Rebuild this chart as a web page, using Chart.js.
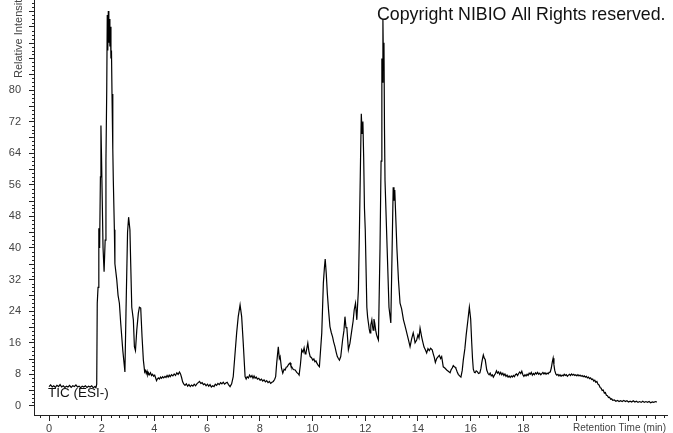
<!DOCTYPE html>
<html>
<head>
<meta charset="utf-8">
<script src="https://cdn.jsdelivr.net/npm/chart.js@4/dist/chart.umd.min.js"></script>
<style>
  html, body { margin: 0; padding: 0; background: #fff; }
  #wrap { width: 673px; height: 433px; }
</style>
</head>
<body>
<div id="wrap"><canvas id="tic" width="673" height="433"></canvas></div>
<script>
// TIC trace as [retention time (min), relative intensity (%)]
const startBaseline = [
  [0.00, 4.9], [0.06, 5.3], [0.12, 4.8], [0.18, 5.1], [0.24, 4.7], [0.30, 5.2], [0.36, 4.9], [0.42, 5.4],
  [0.48, 4.8], [0.54, 5.1], [0.60, 4.7], [0.66, 5.0], [0.72, 4.8], [0.78, 5.2], [0.84, 4.7], [0.90, 5.1],
  [0.96, 4.9], [1.02, 5.3], [1.08, 4.8], [1.14, 5.0], [1.20, 4.6], [1.26, 5.0], [1.32, 4.8], [1.38, 5.1],
  [1.44, 4.7], [1.50, 5.0], [1.56, 4.8], [1.62, 5.1], [1.68, 4.6], [1.74, 4.9], [1.78, 4.6], [1.81, 5.5],
];

const earlyPeaks = [
  [1.83, 26], [1.86, 30], [1.89, 45], [1.92, 40], [1.95, 58], [1.97, 71], [1.99, 64], [2.02, 52],
  [2.05, 40], [2.09, 34], [2.13, 42], [2.16, 62], [2.19, 80], [2.21, 99], [2.23, 90], [2.25, 100],
  [2.27, 92], [2.29, 98], [2.31, 91], [2.33, 96], [2.35, 88], [2.37, 90], [2.39, 79], [2.42, 65],
  [2.44, 57], [2.48, 44.6], [2.50, 36], [2.57, 32], [2.62, 28], [2.67, 26], [2.72, 21], [2.80, 14],
  [2.86, 10], [2.88, 8.6], [2.92, 23.5], [2.98, 44], [3.02, 47.8], [3.07, 44.6], [3.10, 36], [3.14, 25],
  [3.20, 21.8], [3.24, 15], [3.28, 14], [3.33, 19.2], [3.39, 23.5], [3.43, 25], [3.48, 24.8], [3.50, 21.8],
  [3.53, 17.5], [3.58, 11.6],
];

const midBaseline = [
  [3.63, 8.6], [3.66, 9.0], [3.69, 8.2], [3.72, 8.8], [3.75, 7.8], [3.78, 8.3], [3.81, 7.9], [3.85, 8.4],
  [3.89, 7.7], [3.93, 8.0], [3.97, 7.5], [4.01, 7.8], [4.05, 7.0], [4.08, 6.4], [4.11, 6.8], [4.15, 7.1],
  [4.19, 6.8], [4.23, 7.3], [4.27, 7.0], [4.31, 7.4], [4.35, 7.1], [4.40, 7.5], [4.44, 7.2], [4.48, 7.7],
  [4.52, 7.3], [4.56, 7.8], [4.60, 7.4], [4.65, 7.9], [4.70, 7.6], [4.75, 8.1], [4.80, 7.7], [4.85, 8.4],
  [4.90, 8.0], [4.95, 8.6], [4.99, 8.1], [5.03, 7.2], [5.07, 6.1], [5.11, 5.6], [5.16, 5.2], [5.21, 5.6],
  [5.26, 5.0], [5.31, 5.4], [5.36, 4.9], [5.41, 5.3], [5.46, 5.0], [5.51, 5.5], [5.56, 5.1], [5.61, 5.6],
  [5.66, 5.9], [5.71, 6.2], [5.76, 5.7], [5.81, 5.9], [5.86, 5.4], [5.91, 5.6], [5.96, 5.1], [6.01, 5.5],
  [6.06, 5.0], [6.11, 5.4], [6.16, 4.8], [6.21, 5.1], [6.26, 4.9], [6.31, 5.5], [6.36, 5.2], [6.41, 5.7],
  [6.46, 5.4], [6.51, 5.9], [6.56, 5.6], [6.61, 6.0], [6.66, 5.5], [6.71, 5.8], [6.76, 6.0], [6.81, 5.4],
  [6.87, 4.9], [6.93, 5.6], [6.99, 7.4],
];

const peaks7to10 = [
  [7.12, 18.5], [7.18, 22.6], [7.25, 25.6], [7.31, 22.6], [7.37, 15.9], [7.44, 7.4], [7.48, 6.8], [7.52, 7.4],
  [7.57, 7.1], [7.61, 7.8], [7.66, 7.3], [7.70, 7.7], [7.74, 7.0], [7.78, 7.6], [7.82, 7.0], [7.86, 7.3],
  [7.91, 6.8], [7.96, 7.0], [8.01, 6.5], [8.06, 6.8], [8.11, 6.3], [8.16, 6.6], [8.21, 6.1], [8.26, 6.4],
  [8.31, 5.9], [8.36, 6.2], [8.41, 5.7], [8.46, 6.0], [8.51, 6.2], [8.56, 6.7], [8.60, 7.4], [8.64, 10.9],
  [8.70, 15.0], [8.74, 12.0], [8.77, 12.5], [8.82, 9.6], [8.87, 8.3], [8.92, 9.3], [8.96, 9.1], [9.00, 9.8],
  [9.04, 9.9], [9.09, 10.5], [9.15, 10.9], [9.18, 10.1], [9.21, 9.9], [9.27, 9.2], [9.34, 9.1], [9.40, 8.5],
  [9.45, 8.2], [9.49, 7.8], [9.54, 10.5], [9.59, 14.2], [9.64, 13.6], [9.68, 14.7], [9.72, 13.2], [9.75, 13.4],
  [9.82, 15.9], [9.86, 13.9], [9.91, 12.5], [9.96, 12.2], [10.01, 11.6], [10.05, 11.9], [10.09, 11.2],
  [10.13, 11.4], [10.16, 10.9], [10.21, 10.3], [10.26, 9.9],
];

const mainCluster = [
  [10.35, 18.5], [10.41, 31.1], [10.45, 35.0], [10.48, 37.2], [10.52, 33.5], [10.56, 28.6], [10.61, 24.0],
  [10.66, 20.1], [10.71, 18.6], [10.76, 17.5], [10.80, 16.2], [10.85, 15.0], [10.90, 13.5], [10.94, 12.5],
  [10.98, 12.0], [11.02, 11.6], [11.07, 12.5], [11.14, 16.7], [11.19, 19.0], [11.23, 22.6], [11.27, 19.8],
  [11.30, 20.0], [11.36, 14.2], [11.42, 15.9], [11.49, 19.2], [11.54, 21.5], [11.58, 24.3], [11.63, 26.0],
  [11.68, 21.8], [11.74, 29.4], [11.78, 45], [11.82, 62], [11.85, 74], [11.88, 69], [11.91, 72], [11.94, 63],
  [11.97, 50], [12.00, 44.6], [12.06, 25], [12.09, 22.5], [12.12, 21], [12.15, 19.5], [12.18, 18.5],
  [12.21, 20.5], [12.25, 21.8], [12.28, 20.0], [12.30, 19.2], [12.33, 22.0], [12.36, 21], [12.40, 19.0],
  [12.43, 18.0], [12.47, 17.2], [12.50, 16.7], [12.56, 40], [12.60, 62], [12.63, 88], [12.65, 82],
  [12.67, 98], [12.69, 86], [12.71, 92], [12.73, 70], [12.75, 57], [12.83, 40], [12.90, 25], [12.97, 21],
  [13.02, 40], [13.06, 55.4], [13.09, 52], [13.12, 54.7], [13.20, 40], [13.26, 31.9],
];

const tailPeaks = [
  [13.32, 26], [13.38, 24.6], [13.45, 21.8], [13.50, 20.5], [13.55, 19.2], [13.60, 17.8], [13.64, 16.7],
  [13.70, 15.0], [13.76, 17.0], [13.82, 18.5], [13.86, 17.2], [13.89, 16.0], [13.95, 16.7], [14.00, 18.0],
  [14.04, 17.2], [14.08, 19.7], [14.14, 17.5], [14.18, 16.3], [14.23, 14.9], [14.28, 14.2], [14.33, 13.4],
  [14.38, 14.5], [14.43, 14.0], [14.48, 14.6], [14.54, 14.2], [14.58, 13.2], [14.62, 12.3], [14.66, 11.0],
  [14.71, 12.0], [14.76, 12.4], [14.81, 12.8], [14.86, 12.0], [14.90, 12.5], [14.96, 9.9], [15.02, 9.6],
  [15.09, 9.1], [15.15, 8.8], [15.22, 8.4], [15.26, 9.2], [15.30, 9.6], [15.34, 10.2], [15.37, 10.0],
  [15.41, 9.8], [15.44, 9.5], [15.49, 8.6], [15.53, 8.0], [15.58, 7.6], [15.63, 7.3], [15.68, 9.0],
  [15.72, 11.6], [15.78, 14.5], [15.83, 18.0], [15.90, 22.0], [15.95, 25.0], [16.00, 22.0], [16.04, 16.0],
  [16.07, 12.0], [16.10, 9.3], [16.14, 8.5], [16.17, 8.4], [16.21, 8.9], [16.25, 8.7], [16.30, 8.2],
  [16.35, 8.4], [16.39, 9.5], [16.42, 10.9], [16.45, 12.0], [16.48, 12.9], [16.52, 12.0], [16.55, 11.8],
];

const lateBaseline = [
  [16.61, 9.1], [16.66, 8.2], [16.70, 7.9], [16.74, 8.3], [16.78, 7.6], [16.82, 7.9], [16.86, 7.3],
  [16.90, 7.8], [16.94, 8.2], [16.98, 8.9], [17.02, 8.3], [17.06, 8.6], [17.10, 8.0], [17.14, 8.5],
  [17.18, 7.9], [17.22, 8.3], [17.26, 7.7], [17.30, 8.1], [17.34, 7.5], [17.38, 7.8], [17.42, 7.3],
  [17.46, 7.6], [17.50, 7.2], [17.54, 7.6], [17.58, 7.3], [17.62, 7.7], [17.66, 7.4], [17.70, 7.9],
  [17.74, 8.1], [17.78, 7.7], [17.82, 8.2], [17.86, 8.6], [17.90, 8.2], [17.94, 8.8], [17.98, 7.9],
  [18.02, 7.5], [18.06, 7.9], [18.10, 7.6], [18.14, 8.0], [18.18, 7.7], [18.22, 8.3], [18.26, 8.0],
  [18.30, 8.5], [18.34, 7.8], [18.38, 8.2], [18.42, 7.9], [18.46, 8.4], [18.50, 8.1], [18.54, 8.5],
  [18.58, 8.0], [18.62, 8.3], [18.66, 7.9], [18.70, 8.2], [18.74, 8.5], [18.78, 8.1], [18.82, 8.4],
  [18.86, 8.0], [18.90, 8.3], [18.94, 8.1], [18.98, 8.5], [19.02, 8.6], [19.06, 9.6], [19.10, 11.2],
  [19.13, 12.1], [19.16, 10.4], [19.19, 9.0], [19.23, 8.1], [19.27, 7.8], [19.31, 8.0], [19.35, 7.6],
  [19.39, 7.9], [19.43, 7.5], [19.47, 7.8], [19.51, 7.6], [19.55, 8.0], [19.59, 7.7], [19.63, 7.9],
  [19.67, 7.5], [19.71, 7.8], [19.75, 8.0], [19.79, 7.7], [19.83, 8.1], [19.87, 7.8], [19.91, 8.0],
  [19.95, 7.7], [19.99, 7.9], [20.03, 7.6], [20.07, 7.9], [20.11, 7.6], [20.15, 7.8], [20.19, 7.5],
  [20.23, 7.7], [20.27, 7.4], [20.31, 7.6], [20.35, 7.3], [20.39, 7.5], [20.43, 7.1], [20.47, 7.3],
  [20.51, 6.9], [20.55, 7.1], [20.59, 6.7], [20.63, 6.8], [20.67, 6.3], [20.71, 6.5], [20.75, 6.0],
  [20.79, 6.2], [20.83, 5.5], [20.87, 5.3], [20.91, 4.7],
];

const washout = [
  [20.95, 4.5], [20.99, 3.9], [21.03, 4.0], [21.07, 3.3], [21.11, 3.4], [21.15, 2.7], [21.19, 2.6],
  [21.23, 2.1], [21.27, 2.2], [21.31, 1.7], [21.35, 1.8], [21.39, 1.4], [21.45, 1.5], [21.51, 1.2],
  [21.57, 1.4], [21.63, 1.1], [21.69, 1.3], [21.75, 1.1], [21.81, 1.4], [21.87, 1.1], [21.93, 1.3],
  [21.99, 1.0], [22.05, 1.2], [22.11, 1.0], [22.17, 1.3], [22.23, 1.0], [22.29, 1.2], [22.35, 0.9],
  [22.41, 1.1], [22.47, 0.9], [22.53, 1.2], [22.59, 0.9], [22.65, 1.1], [22.71, 0.9], [22.77, 1.1],
  [22.83, 0.8], [22.89, 1.0], [22.95, 0.9], [23.01, 1.1], [23.07, 1.0],
];

// major ticks; labels past the last labelled value sit under the axis titles
const xMajorTicks = [0, 2, 4, 6, 8, 10, 12, 14, 16, 18, 20, 22];
const xLabelled = [0, 2, 4, 6, 8, 10, 12, 14, 16, 18];
const yMajorTicks = [0, 8, 16, 24, 32, 40, 48, 56, 64, 72, 80, 88, 96];
const yLabelled = [0, 8, 16, 24, 32, 40, 48, 56, 64, 72, 80];

const FONT = "'Liberation Sans', Arial, sans-serif";

// small ticks between the labelled ones
const minorTicks = {
  id: 'minorTicks',
  afterDraw(chart) {
    const { ctx } = chart;
    const x = chart.scales.x;
    const y = chart.scales.y;
    ctx.save();
    ctx.strokeStyle = '#222';
    ctx.lineWidth = 1;
    ctx.beginPath();
    for (let v = 1; v <= 102; v += 1) {
      if (v % 8 === 0) continue;
      const py = Math.round(y.getPixelForValue(v)) + 0.5;
      const len = v % 4 === 0 ? 5 : 2;
      ctx.moveTo(y.right - len, py);
      ctx.lineTo(y.right, py);
    }
    for (let k = -1; k <= 70; k += 1) {
      if (k % 6 === 0) continue;
      const px = Math.round(x.getPixelForValue(k / 3)) + 0.5;
      if (px < x.left || px > x.right) continue;
      const len = k % 3 === 0 ? 4 : 3;
      ctx.moveTo(px, x.top);
      ctx.lineTo(px, x.top + len);
    }
    ctx.stroke();
    ctx.restore();
  },
};

// axis titles, trace name and copyright line
const annotations = {
  id: 'annotations',
  afterDraw(chart) {
    const { ctx } = chart;
    ctx.save();
    ctx.fillStyle = '#111';
    ctx.textBaseline = 'alphabetic';
    ctx.textAlign = 'left';
    ctx.font = `17.8px ${FONT}`;
    ctx.fillText('Copyright NIBIO All Rights reserved.', 377, 20);

    ctx.font = `13.5px ${FONT}`;
    ctx.fillText('TIC (ESI-)', 48, 397);

    ctx.fillStyle = '#444';
    ctx.font = `10px ${FONT}`;
    ctx.textAlign = 'right';
    ctx.fillText('Retention Time (min)', 666, 431);

    ctx.textAlign = 'left';
    ctx.font = `11px ${FONT}`;
    ctx.translate(22, 78);
    ctx.rotate(-Math.PI / 2);
    ctx.fillText('Relative Intensity', 0, 0);
    ctx.restore();
  },
};

const points = [
  ...startBaseline,
  ...earlyPeaks,
  ...midBaseline,
  ...peaks7to10,
  ...mainCluster,
  ...tailPeaks,
  ...lateBaseline,
  ...washout,
].map(([t, v]) => ({ x: t, y: v }));

new Chart(document.getElementById('tic'), {
  type: 'line',
  data: {
    datasets: [
      {
        label: 'TIC (ESI-)',
        data: points,
        borderColor: '#000',
        borderWidth: 1.2,
        pointRadius: 0,
        tension: 0,
        fill: false,
      },
    ],
  },
  options: {
    responsive: false,
    animation: false,
    devicePixelRatio: 1,
    layout: { padding: { left: 0, right: 6, top: 0, bottom: 0 } },
    plugins: {
      legend: { display: false },
      tooltip: { enabled: false },
    },
    scales: {
      x: {
        type: 'linear',
        min: -0.57,
        max: 23.45,
        afterBuildTicks: (scale) => {
          scale.ticks = xMajorTicks.map((v) => ({ value: v }));
        },
        afterFit: (scale) => {
          scale.height = 18;
          scale.paddingLeft = 0;
          scale.paddingRight = 0;
        },
        ticks: {
          autoSkip: false,
          maxRotation: 0,
          padding: 1,
          color: '#444',
          font: { family: FONT, size: 11 },
          callback: (v) => (xLabelled.includes(v) ? String(v) : ''),
        },
        grid: { drawOnChartArea: false, tickLength: 6, color: '#222' },
        border: { color: '#222', width: 1 },
      },
      y: {
        type: 'linear',
        min: -2.3,
        max: 102.8,
        afterBuildTicks: (scale) => {
          scale.ticks = yMajorTicks.map((v) => ({ value: v }));
        },
        afterFit: (scale) => {
          scale.width = 34;
          scale.paddingTop = 0;
          scale.paddingBottom = 0;
        },
        ticks: {
          autoSkip: false,
          padding: 8,
          color: '#444',
          font: { family: FONT, size: 11 },
          callback: (v) => (yLabelled.includes(v) ? String(v) : ''),
        },
        grid: { drawOnChartArea: false, tickLength: 5, color: '#222' },
        border: { color: '#222', width: 1 },
      },
    },
  },
  plugins: [minorTicks, annotations],
});
</script>
</body>
</html>
